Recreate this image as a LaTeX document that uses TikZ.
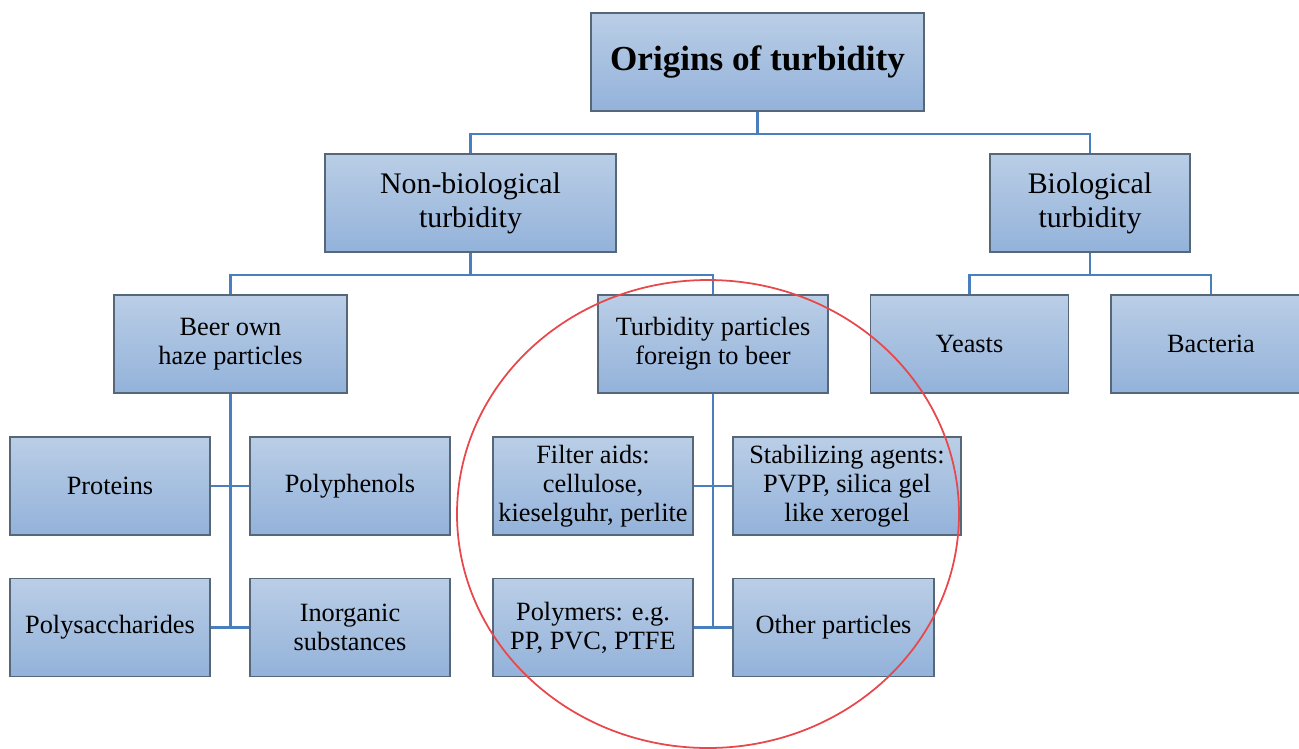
\documentclass[tikz,border=0pt]{standalone}
\usepackage{fontspec}
\setmainfont{Liberation Serif}
\usepackage{tikz}
\usetikzlibrary{positioning,calc}

\definecolor{boxtop}{HTML}{BACEE6}
\definecolor{boxbot}{HTML}{93B2DA}
\definecolor{boxline}{HTML}{56677A}
\definecolor{linkblue}{HTML}{4A7FBD}
\definecolor{ringred}{HTML}{E8474B}

\begin{document}
\begin{tikzpicture}[x=0.02cm, y=-0.02cm,
    box/.style={draw=boxline, line width=0.9pt, top color=boxtop, bottom color=boxbot,
      minimum height=1.96cm, align=center, inner sep=2pt,
      font=\fontsize{15}{16.6}\selectfont},
    link/.style={draw=linkblue, line width=1.4pt}]
  \useasboundingbox (0,0) rectangle (1299,748);
  % top level
  \node[box, minimum width=6.66cm, font=\fontsize{20}{22}\selectfont\bfseries] (origins) at (757.5,62) {Origins of turbidity};
  \node[box, minimum width=5.82cm, font=\fontsize{17}{19.3}\selectfont] (nonbio) at (470.5,203) {Non-biological\\turbidity};
  \node[box, minimum width=4cm, font=\fontsize{17}{19.3}\selectfont] (bio) at (1090,203) {Biological\\turbidity};
  % third level
  \node[box, minimum width=4.66cm] (own) at (230.5,344) {Beer own\\haze particles};
  \node[box, minimum width=4.6cm] (foreign) at (713,344) {Turbidity particles\\foreign to beer};
  \node[box, minimum width=3.96cm] (yeasts) at (969.5,344) {Yeasts};
  \node[box, minimum width=4cm] (bacteria) at (1211,344) {Bacteria};
  % beer own particles
  \node[box, minimum width=4cm] (proteins) at (110,486) {Proteins};
  \node[box, minimum width=4cm] (phenols) at (350,486) {Polyphenols};
  \node[box, minimum width=4cm] (sacch) at (110,627.5) {Polysaccharides};
  \node[box, minimum width=4cm] (inorg) at (350,627.5) {Inorganic\\substances};
  % foreign particles
  \node[box, minimum width=4cm] (filter) at (593,486) {Filter aids:\\cellulose,\\kieselguhr, perlite};
  \node[box, minimum width=4.56cm] (stabil) at (847,486) {Stabilizing agents:\\PVPP, silica gel\\like xerogel};
  \node[box, minimum width=4cm] (polym) at (593,627.5) {Polymers: e.g.\\PP, PVC, PTFE};
  \node[box, minimum width=4.02cm] (other) at (833.5,627.5) {Other particles};

  % connectors
  \draw[link] (origins.south) -- ++(0,22) coordinate (j1);
  \draw[link] (nonbio.north) |- (j1) -| (bio.north);
  \draw[link] (nonbio.south) -- ++(0,22) coordinate (j2);
  \draw[link] (own.north) |- (j2) -| (foreign.north);
  \draw[link] (bio.south) -- ++(0,22) coordinate (j3);
  \draw[link] (yeasts.north) |- (j3) -| (bacteria.north);
  \draw[link] (own.south) -- (own.south |- sacch.east);
  \draw[link] (proteins.east) -- (phenols.west);
  \draw[link] (sacch.east) -- (inorg.west);
  \draw[link] (foreign.south) -- (foreign.south |- polym.east);
  \draw[link] (filter.east) -- (stabil.west);
  \draw[link] (polym.east) -- (other.west);

  % highlight ring
  \draw[ringred, line width=1pt] (708,514) ellipse (251 and 234);
\end{tikzpicture}
\end{document}
